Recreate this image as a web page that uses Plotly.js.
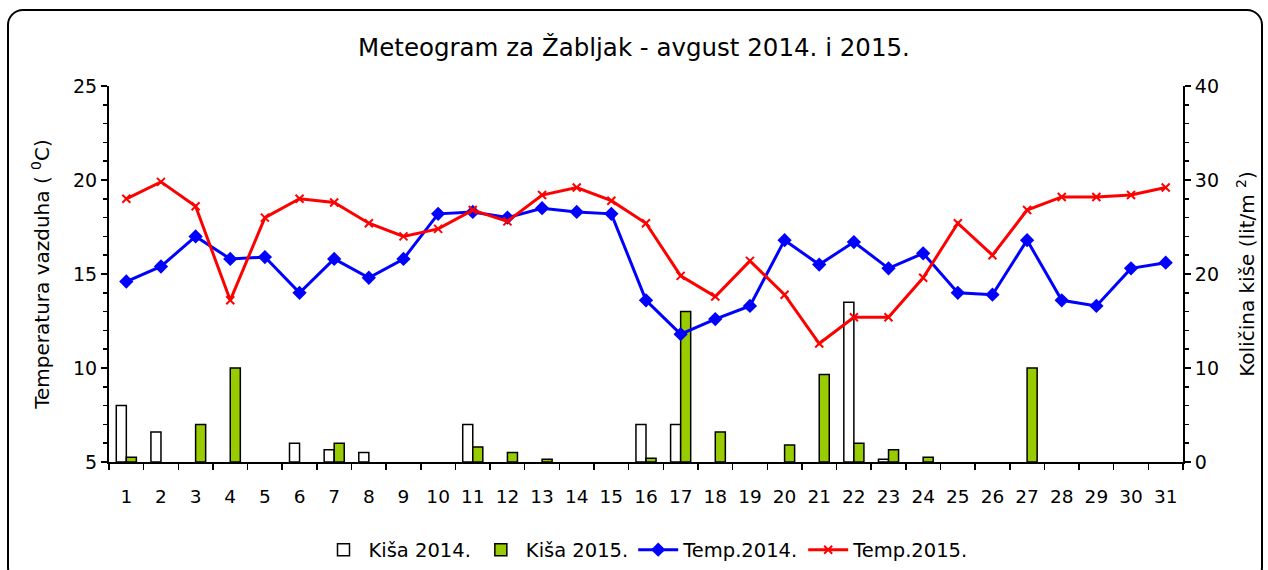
<!DOCTYPE html>
<html>
<head>
<meta charset="utf-8">
<script src="https://cdn.plot.ly/plotly-3.0.1.min.js"></script>
<style>
  html, body { margin: 0; padding: 0; background: #fff; }
  #frame { position: absolute; left: 7px; top: 9px; width: 1256px; height: 575px;
           border: 2px solid #000; border-radius: 16px; box-sizing: border-box; pointer-events: none; }
  #chart { position: absolute; left: 0; top: 0; width: 1268px; height: 570px; }
</style>
</head>
<body>
<div id="chart"></div>
<div id="frame"></div>
<script>
const days = Array.from({length: 31}, (_, i) => String(i + 1));

const rain2014 = [6, 3.2, 0, 0, 0, 2, 1.3, 1, 0, 0, 4, 0, 0, 0, 0, 4, 4, 0, 0, 0, 0, 17, 0.3, 0, 0, 0, 0, 0, 0, 0, 0];
const rain2015 = [0.5, 0, 4, 10, 0, 0, 2, 0, 0, 0, 1.6, 1, 0.3, 0, 0, 0.4, 16, 3.2, 0, 1.8, 9.3, 2, 1.3, 0.5, 0, 0, 10, 0, 0, 0, 0];
const temp2014 = [14.6, 15.4, 17.0, 15.8, 15.9, 14.0, 15.8, 14.8, 15.8, 18.2, 18.3, 18.0, 18.5, 18.3, 18.2, 13.6, 11.8, 12.6, 13.3, 16.8, 15.5, 16.7, 15.3, 16.1, 14.0, 13.9, 16.8, 13.6, 13.3, 15.3, 15.6];
const temp2015 = [19.0, 19.9, 18.6, 13.6, 18.0, 19.0, 18.8, 17.7, 17.0, 17.4, 18.4, 17.8, 19.2, 19.6, 18.9, 17.7, 14.9, 13.8, 15.7, 13.9, 11.3, 12.7, 12.7, 14.8, 17.7, 16.0, 18.4, 19.1, 19.1, 19.2, 19.6];

const FONT = 'DejaVu Sans, Verdana, sans-serif';
// days without rain get no bar at all
const noZero = arr => arr.map(v => (v === 0 ? null : v));

const traces = [
  { type: 'bar', name: 'Kiša 2014.', x: days, y: noZero(rain2014), yaxis: 'y',
    marker: { color: '#ffffff', line: { color: '#000000', width: 1.5 } } },
  { type: 'bar', name: 'Kiša 2015.', x: days, y: noZero(rain2015), yaxis: 'y',
    marker: { color: '#99cc00', line: { color: '#000000', width: 1.5 } } },
  { type: 'scatter', mode: 'lines+markers', name: 'Temp.2014.', x: days, y: temp2014, yaxis: 'y2',
    line: { color: '#0000ff', width: 3 }, marker: { symbol: 'diamond', size: 11, color: '#0000ff' } },
  { type: 'scatter', mode: 'lines+markers', name: 'Temp.2015.', x: days, y: temp2015, yaxis: 'y2',
    line: { color: '#ff0000', width: 3 }, marker: { symbol: 'x-thin', size: 8, color: '#ff0000', line: { color: '#ff0000', width: 2 } } }
];

const layout = {
  width: 1268, height: 570,
  margin: { l: 109, r: 85, t: 86, b: 108, autoexpand: false },
  paper_bgcolor: 'rgba(0,0,0,0)', plot_bgcolor: 'rgba(0,0,0,0)',
  font: { family: FONT, color: '#000', size: 18 },
  title: { text: 'Meteogram za Žabljak - avgust 2014. i 2015.', x: 0.5, xanchor: 'center', y: 0.917, yanchor: 'middle',
           font: { family: FONT, size: 24.5, color: '#000' } },
  barmode: 'group', bargap: 0.42, bargroupgap: 0,
  showlegend: true,
  legend: { orientation: 'h', x: 0.5, xanchor: 'center', yref: 'container', y: 0.035, yanchor: 'middle',
            font: { family: FONT, size: 19.5 }, itemwidth: 40, traceorder: 'normal', tracegroupgap: 0 },
  xaxis: {
    type: 'category', range: [-0.5, 30.5], showline: true, linecolor: '#000', linewidth: 2,
    ticks: 'outside', tickson: 'boundaries', ticklen: 6, tickcolor: '#000', tickwidth: 1.5,
    ticklabelstandoff: 17,
    showgrid: false, zeroline: false, tickfont: { family: FONT, size: 18.5 }
  },
  yaxis: {
    side: 'right', range: [0, 40], dtick: 10, showline: true, linecolor: '#000', linewidth: 2,
    ticks: 'outside', ticklen: 6, tickcolor: '#000', tickwidth: 1.5,
    minor: { dtick: 2, ticks: 'outside', ticklen: 4, tickcolor: '#000' },
    showgrid: false, zeroline: false, tickfont: { family: FONT, size: 19 },
    title: { text: 'Količina kiše (lit/m <sup>2</sup>)', font: { family: FONT, size: 20 }, standoff: 22 }
  },
  yaxis2: {
    side: 'left', overlaying: 'y', range: [5, 25], dtick: 5, showline: true, linecolor: '#000', linewidth: 2,
    ticks: 'outside', ticklen: 6, tickcolor: '#000', tickwidth: 1.5,
    minor: { dtick: 1, ticks: 'outside', ticklen: 4, tickcolor: '#000' },
    showgrid: false, zeroline: false, tickfont: { family: FONT, size: 19 },
    title: { text: 'Temperatura vazduha ( <sup>0</sup>C)', font: { family: FONT, size: 20 }, standoff: 18 }
  }
};

Plotly.newPlot('chart', traces, layout, { displayModeBar: false, staticPlot: true });
</script>
</body>
</html>
